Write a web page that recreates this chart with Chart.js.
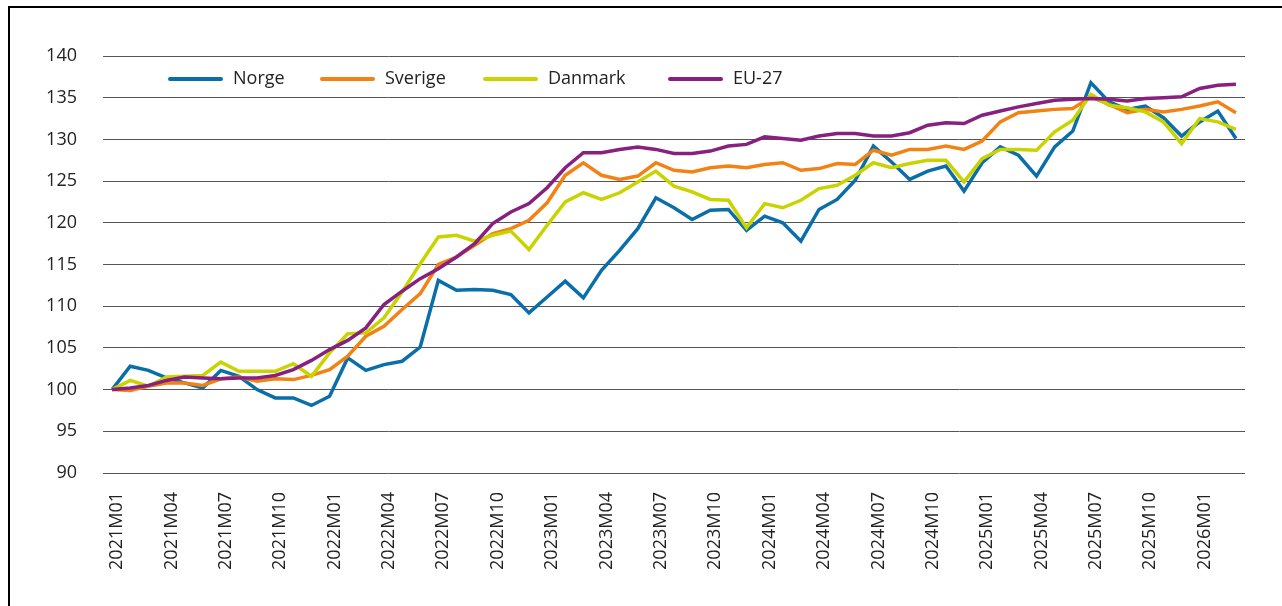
<!DOCTYPE html>
<html>
<head>
<meta charset="utf-8">
<script src="https://cdn.jsdelivr.net/npm/chart.js@4.4.1/dist/chart.umd.min.js"></script>
<style>
    html, body { margin: 0; padding: 0; background: #fff; }
    #wrap { position: relative; width: 1282px; height: 606px; overflow: hidden; }
    #ramme { position: absolute; left: 8px; top: 6px; width: 1400px; height: 800px; border: 2px solid #000; }
    #graf { position: absolute; left: 0; top: 0; }
</style>
</head>
<body>
<div id="wrap">
    <div id="ramme"></div>
    <canvas id="graf" width="1282" height="606"></canvas>
</div>
<script>
// Månedlige kategorier 2021M01 - 2026M03
const aar = [2021, 2022, 2023, 2024, 2025, 2026];
const maaneder = [];
aar.forEach((a) => {
    for (let m = 1; m <= 12; m++) {
        if (a === 2026 && m > 3) break;
        maaneder.push(a + "M" + (m < 10 ? "0" + m : m));
    }
});

const norge = [
    100.0, 102.8, 102.3, 101.4, 100.8, 100.2, 102.3, 101.6, 100.0, 99.0, 99.0, 98.1,
    99.2, 103.8, 102.3, 103.0, 103.4, 105.1, 113.1, 111.9, 112.0, 111.9, 111.4, 109.2,
    111.1, 113.0, 111.0, 114.3, 116.7, 119.3, 123.0, 121.8, 120.4, 121.5, 121.6, 119.1,
    120.8, 120.0, 117.8, 121.6, 122.8, 125.1, 129.2, 127.3, 125.2, 126.2, 126.8, 123.8,
    127.2, 129.1, 128.1, 125.6, 129.1, 131.0, 136.8, 134.5, 133.6, 134.0, 132.6, 130.4,
    132.1, 133.4, 130.1
];
const sverige = [
    100.0, 99.9, 100.4, 100.8, 100.8, 100.5, 101.3, 101.5, 101.0, 101.3, 101.2, 101.7,
    102.4, 104.0, 106.4, 107.6, 109.6, 111.5, 115.0, 115.9, 117.3, 118.7, 119.3, 120.3,
    122.4, 125.7, 127.2, 125.7, 125.2, 125.6, 127.2, 126.3, 126.1, 126.6, 126.8, 126.6,
    127.0, 127.2, 126.3, 126.5, 127.1, 127.0, 128.7, 128.1, 128.8, 128.8, 129.2, 128.8,
    129.8, 132.1, 133.2, 133.4, 133.6, 133.7, 135.1, 134.2, 133.2, 133.6, 133.3, 133.6,
    134.0, 134.5, 133.2
];
const danmark = [
    100.0, 101.1, 100.4, 101.5, 101.6, 101.7, 103.3, 102.2, 102.2, 102.2, 103.1, 101.6,
    104.4, 106.7, 106.8, 108.6, 111.7, 115.1, 118.3, 118.5, 117.8, 118.5, 119.0, 116.8,
    119.7, 122.5, 123.6, 122.8, 123.6, 124.9, 126.2, 124.4, 123.7, 122.8, 122.7, 119.4,
    122.3, 121.8, 122.7, 124.1, 124.5, 125.7, 127.2, 126.6, 127.1, 127.5, 127.5, 124.9,
    127.7, 128.8, 128.8, 128.7, 130.9, 132.3, 135.4, 134.1, 133.8, 133.3, 132.1, 129.5,
    132.5, 132.1, 131.2
];
const eu27 = [
    100.0, 100.2, 100.5, 101.1, 101.5, 101.4, 101.3, 101.4, 101.4, 101.7, 102.4, 103.5,
    104.8, 105.9, 107.4, 110.2, 111.8, 113.3, 114.5, 115.9, 117.5, 119.9, 121.3, 122.3,
    124.2, 126.6, 128.4, 128.4, 128.8, 129.1, 128.8, 128.3, 128.3, 128.6, 129.2, 129.4,
    130.3, 130.1, 129.9, 130.4, 130.7, 130.7, 130.4, 130.4, 130.8, 131.7, 132.0, 131.9,
    132.9, 133.4, 133.9, 134.3, 134.7, 134.8, 134.9, 134.8, 134.6, 134.9, 135.0, 135.1,
    136.1, 136.5, 136.6
];

const serier = ["Norge", "Sverige", "Danmark", "EU-27"];
const farger = ["#0a6ea9", "#f18213", "#c9d300", "#88207f"];

const skrift = "'Open Sans', 'Noto Sans', sans-serif";

// Egen forklaring inne i plottet
const forklaring = {
    id: "forklaring",
    afterDraw(chart) {
        const ctx = chart.ctx;
        const area = chart.chartArea;
        const startX = [65, 217, 380, 565];
        const y = 79;
        ctx.save();
        ctx.font = "18px " + skrift;
        ctx.textBaseline = "middle";
        ctx.textAlign = "left";
        chart.data.datasets.forEach((ds, i) => {
            const x = area.left + startX[i];
            ctx.strokeStyle = ds.borderColor;
            ctx.lineWidth = 4;
            ctx.lineCap = "round";
            ctx.beginPath();
            ctx.moveTo(x + 2, y);
            ctx.lineTo(x + 53, y);
            ctx.stroke();
            ctx.fillStyle = "#222";
            ctx.fillText(ds.label, x + 65, y);
        });
        ctx.restore();
    }
};

const datasett = [norge, sverige, danmark, eu27].map((d, i) => ({
    label: serier[i],
    data: d,
    borderColor: farger[i],
    backgroundColor: farger[i],
    borderWidth: 3.5,
    pointRadius: 0,
    tension: 0,
    order: 3 - i
}));

new Chart(document.getElementById("graf").getContext("2d"), {
    type: "line",
    data: { labels: maaneder, datasets: datasett },
    options: {
        responsive: false,
        animation: false,
        layout: { padding: { left: 47, right: 37, top: 56, bottom: 0 } },
        plugins: { legend: { display: false }, tooltip: { enabled: false } },
        scales: {
            x: {
                offset: true,
                grid: { display: false, drawTicks: false },
                border: { display: false },
                afterFit: (s) => { s.height = 133; },
                ticks: {
                    autoSkip: false,
                    minRotation: 90,
                    maxRotation: 90,
                    padding: 19,
                    labelOffset: 5,
                    color: "#222",
                    font: { family: skrift, size: 18 },
                    callback: function (v, i) { return i % 3 === 0 ? this.getLabelForValue(v) : ""; }
                }
            },
            y: {
                min: 90,
                max: 140,
                grid: { color: "#555", lineWidth: 1, drawTicks: false },
                border: { display: false },
                afterFit: (s) => { s.width = 56; },
                ticks: {
                    stepSize: 5,
                    padding: 26,
                    color: "#222",
                    font: { family: skrift, size: 18 }
                }
            }
        }
    },
    plugins: [forklaring]
});
</script>
</body>
</html>
